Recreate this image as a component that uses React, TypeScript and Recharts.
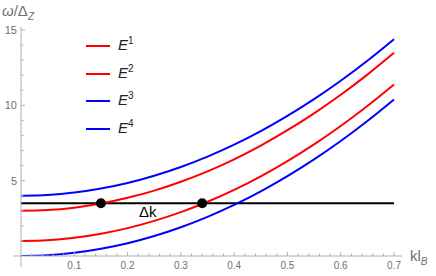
import { LineChart, Line, XAxis, YAxis, ReferenceDot } from 'recharts';

// wave vector k*l_B
const kValues = [0, 0.05, 0.1, 0.15, 0.2, 0.25, 0.3, 0.35, 0.4, 0.45, 0.5, 0.55, 0.6, 0.65, 0.7];

// energies omega/Delta_Z
const e1 = [3, 3.05, 3.21, 3.48, 3.86, 4.34, 4.93, 5.62, 6.42, 7.33, 8.35, 9.47, 10.7, 12.04, 13.49];
const e2 = [1, 1.05, 1.21, 1.48, 1.85, 2.33, 2.91, 3.6, 4.39, 5.29, 6.3, 7.41, 8.63, 9.96, 11.39];
const e3 = [4, 4.05, 4.21, 4.48, 4.85, 5.33, 5.91, 6.6, 7.39, 8.29, 9.3, 10.41, 11.63, 12.96, 14.39];
const e4 = [0, 0.05, 0.21, 0.48, 0.85, 1.33, 1.91, 2.6, 3.39, 4.29, 5.3, 6.41, 7.63, 8.96, 10.39];
const level = [3.5, 3.5, 3.5, 3.5, 3.5, 3.5, 3.5, 3.5, 3.5, 3.5, 3.5, 3.5, 3.5, 3.5, 3.5];

// crossing points
const crossK = [0.15, 0.34];
const crossE = 3.5;

const seriesNames = ['E1', 'E2', 'E3', 'E4'];
const seriesSup = ['1', '2', '3', '4'];
const seriesColors = ['#ff0000', '#ff0000', '#0000ff', '#0000ff'];

const xMajor = [0.1, 0.2, 0.3, 0.4, 0.5, 0.6, 0.7];
const xMinor = [0.02, 0.04, 0.06, 0.08, 0.12, 0.14, 0.16, 0.18, 0.22, 0.24, 0.26, 0.28, 0.32, 0.34, 0.36, 0.38,
  0.42, 0.44, 0.46, 0.48, 0.52, 0.54, 0.56, 0.58, 0.62, 0.64, 0.66, 0.68];
const yMajor = [5, 10, 15];
const yMinor = [1, 2, 3, 4, 6, 7, 8, 9, 11, 12, 13, 14];

const data = kValues.map((k, i) => ({ k, e1: e1[i], e2: e2[i], e3: e3[i], e4: e4[i], level: level[i] }));

const axisGray = '#b0b0b0';
const labelGray = '#707070';
const font = '"Liberation Sans", Arial, sans-serif';

const XTick = (props: any) => {
  const { x, y, payload } = props;
  const major = xMajor.some((v) => Math.abs(v - payload.value) < 1e-6);
  return (
    <g>
      <line x1={x} x2={x} y1={y} y2={y - (major ? 4 : 2.5)} stroke={axisGray} />
      {major && (
        <text x={x} y={y + 13} textAnchor="middle" fontSize={10} fill={labelGray} fontFamily={font}>
          {payload.value.toFixed(1)}
        </text>
      )}
    </g>
  );
};

const YTick = (props: any) => {
  const { x, y, payload } = props;
  const major = yMajor.includes(payload.value);
  return (
    <g>
      <line x1={x} x2={x + (major ? 4 : 2.5)} y1={y} y2={y} stroke={axisGray} />
      {major && (
        <text x={x - 4} y={y + 4} textAnchor="end" fontSize={11} fill={labelGray} fontFamily={font}>
          {payload.value}
        </text>
      )}
    </g>
  );
};

export default function App() {
  return (
    <div style={{ position: 'absolute', left: 0, top: 0, width: 436, height: 276, background: '#fff', fontFamily: font }}>
      <LineChart width={436} height={276} data={data} margin={{ top: 27, right: 34, bottom: 0, left: 0 }}>
        <XAxis
          dataKey="k"
          type="number"
          domain={[0, 0.715]}
          ticks={[...xMinor, ...xMajor].sort((a, b) => a - b)}
          interval={0}
          height={20}
          tickSize={0}
          tickMargin={0}
          tick={<XTick />}
          tickLine={false}
          axisLine={{ stroke: axisGray }}
          allowDataOverflow
        />
        <YAxis
          type="number"
          domain={[0, 15.2]}
          ticks={[...yMinor, ...yMajor].sort((a, b) => a - b)}
          interval={0}
          width={21}
          tickSize={0}
          tickMargin={0}
          tick={<YTick />}
          tickLine={false}
          axisLine={{ stroke: axisGray }}
          allowDataOverflow
        />
        <Line dataKey="level" stroke="#000" strokeWidth={2} dot={false} isAnimationActive={false} type="linear" />
        <Line dataKey="e4" stroke={seriesColors[3]} strokeWidth={2} dot={false} isAnimationActive={false} type="monotone" />
        <Line dataKey="e2" stroke={seriesColors[1]} strokeWidth={2} dot={false} isAnimationActive={false} type="monotone" />
        <Line dataKey="e1" stroke={seriesColors[0]} strokeWidth={2} dot={false} isAnimationActive={false} type="monotone" />
        <Line dataKey="e3" stroke={seriesColors[2]} strokeWidth={2} dot={false} isAnimationActive={false} type="monotone" />
        {crossK.map((k) => (
          <ReferenceDot key={k} x={k} y={crossE} r={5} fill="#000" stroke="none" />
        ))}
        <ReferenceDot
          x={0.238}
          y={crossE}
          r={0}
          stroke="none"
          label={{ value: 'Δk', position: 'bottom', offset: 3, fontSize: 15, fill: '#000', fontFamily: font }}
        />
      </LineChart>

      {/* axis stubs crossing past the origin */}
      <svg width={436} height={276} style={{ position: 'absolute', left: 0, top: 0, pointerEvents: 'none' }}>
        <line x1={13} x2={21} y1={256} y2={256} stroke={axisGray} />
        <line x1={21} x2={21} y1={256} y2={267} stroke={axisGray} />
      </svg>

      {/* legend */}
      <div style={{ position: 'absolute', left: 86, top: 35 }}>
        {seriesNames.map((name, i) => (
          <div key={name} style={{ position: 'absolute', left: 0, top: i * 27.7, width: 80, height: 20 }}>
            <div style={{ position: 'absolute', left: 0, top: 10, width: 24, height: 2, background: seriesColors[i] }} />
            <div style={{ position: 'absolute', left: 32, top: 0, fontSize: 15, fontStyle: 'italic', color: '#222', whiteSpace: 'nowrap', lineHeight: '20px' }}>
              E<span style={{ fontSize: 10, fontStyle: 'normal', position: 'relative', top: -6 }}>{seriesSup[i]}</span>
            </div>
          </div>
        ))}
      </div>

      {/* axis labels */}
      <div style={{ position: 'absolute', left: 2, top: 2, fontSize: 15, color: labelGray, whiteSpace: 'nowrap' }}>
        <i>ω</i>/Δ<sub style={{ fontSize: 10, fontStyle: 'italic' }}>Z</sub>
      </div>
      <div style={{ position: 'absolute', left: 410, top: 247, fontSize: 15, color: labelGray, whiteSpace: 'nowrap' }}>
        kl<sub style={{ fontSize: 10, fontStyle: 'italic' }}>B</sub>
      </div>
    </div>
  );
}
